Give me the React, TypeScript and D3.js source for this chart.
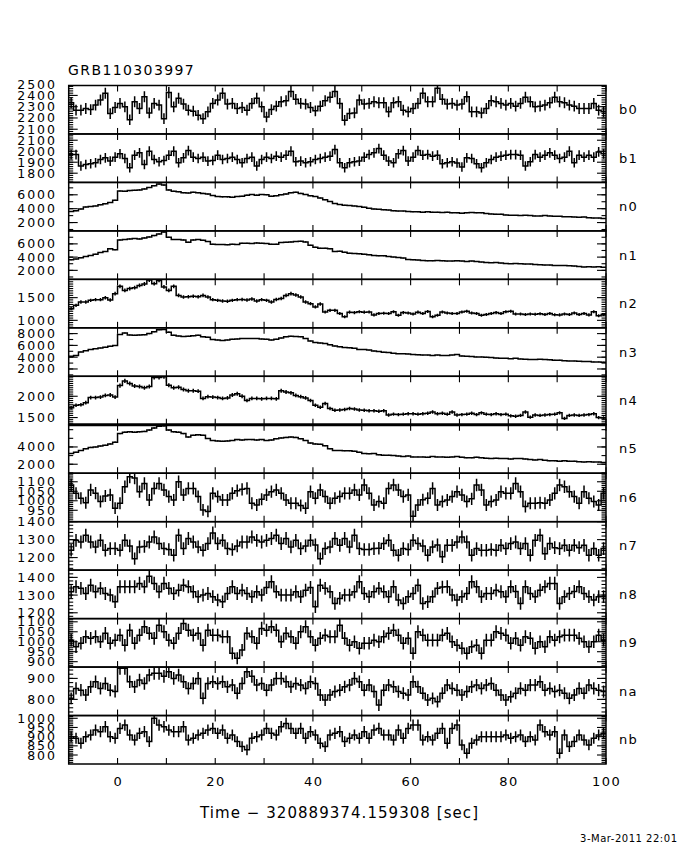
import React from "react";
import * as d3 from "d3";

// GBM light curves for GRB110303997, 1 s bins from -10 s to 100 s
const detectors = ["b0", "b1", "n0", "n1", "n2", "n3", "n4", "n5", "n6", "n7", "n8", "n9", "na", "nb"];

const b0 = [
  2335, 2269, 2269, 2284, 2275, 2314, 2359, 2419, 2239, 2293,
  2329, 2299, 2185, 2344, 2284, 2389, 2245, 2329, 2314, 2194,
  2425, 2299, 2374, 2323, 2269, 2260, 2224, 2194, 2254, 2329,
  2359, 2419, 2323, 2329, 2284, 2293, 2269, 2329, 2374, 2299,
  2209, 2275, 2305, 2344, 2353, 2434, 2365, 2329, 2323, 2293,
  2263, 2305, 2353, 2383, 2434, 2329, 2179, 2239, 2245, 2359,
  2323, 2329, 2344, 2335, 2335, 2254, 2335, 2344, 2269, 2254,
  2284, 2329, 2419, 2344, 2344, 2464, 2365, 2323, 2329, 2314,
  2323, 2389, 2254, 2254, 2245, 2284, 2353, 2344, 2329, 2314,
  2329, 2305, 2329, 2383, 2344, 2299, 2305, 2314, 2335, 2383,
  2344, 2335, 2314, 2305, 2284, 2284, 2284, 2329, 2269, 2254,
];
const b1 = [
  1970, 1970, 1865, 1880, 1886, 1895, 1925, 1940, 1910, 1946,
  1976, 1934, 1850, 1964, 1985, 1880, 2000, 1925, 1904, 1916,
  1964, 2000, 1895, 1940, 2006, 1946, 1934, 1946, 1910, 1916,
  1964, 1925, 1934, 1946, 1925, 1895, 1934, 1946, 1865, 1925,
  1946, 1934, 1955, 1946, 1964, 2000, 1904, 1910, 1895, 1904,
  1925, 1934, 1946, 1955, 2015, 1895, 1850, 1895, 1904, 1910,
  1946, 1970, 1985, 2024, 1964, 1910, 1895, 1976, 2006, 1910,
  1946, 2006, 1964, 1970, 1955, 1964, 1886, 1895, 1904, 1892,
  1856, 1940, 1934, 1886, 1850, 1895, 1925, 1946, 1955, 1964,
  1970, 1970, 1964, 1865, 1904, 1970, 1946, 1964, 1985, 1964,
  1934, 1946, 2000, 1895, 1964, 1946, 1964, 1946, 1994, 1976,
];
const n0 = [
  3600, 3700, 3950, 4250, 4300, 4400, 4550, 4700, 4900, 5200,
  6550, 6500, 6600, 6650, 6700, 6850, 7050, 7300, 7550, 7400,
  6700, 6500, 6450, 6300, 6250, 6350, 6300, 6200, 6100, 5900,
  5750, 5700, 5700, 5650, 5750, 5800, 5950, 6050, 5950, 6050,
  6000, 5800, 5850, 6000, 6100, 6300, 6350, 6200, 6050, 5850,
  5750, 5550, 5300, 5050, 4750, 4600, 4500, 4450, 4400, 4300,
  4200, 4050, 3950, 3900, 3850, 3800, 3700, 3650, 3650, 3600,
  3550, 3550, 3500, 3550, 3500, 3500, 3450, 3500, 3400, 3400,
  3350, 3400, 3450, 3400, 3400, 3300, 3250, 3200, 3200, 3100,
  3050, 3050, 3000, 3050, 3000, 2950, 2950, 3000, 2950, 2900,
  2900, 2850, 2850, 2800, 2750, 2800, 2700, 2650, 2650, 2600,
];
const n1 = [
  3600, 3700, 3900, 4100, 4250, 4450, 4700, 4850, 5250, 5100,
  6600, 6650, 6750, 6800, 6750, 6900, 7050, 7250, 7500, 7800,
  7000, 6650, 6650, 6600, 6250, 6600, 6650, 6550, 6350, 5950,
  5900, 5900, 5850, 5950, 5900, 6100, 6100, 6050, 6150, 6100,
  6050, 5950, 5950, 6200, 6250, 6300, 6350, 6400, 6300, 5800,
  5500, 5350, 5350, 5250, 4850, 4900, 4750, 4600, 4550, 4500,
  4450, 4350, 4250, 4200, 4200, 4100, 4000, 3950, 3850, 3650,
  3600, 3550, 3500, 3450, 3450, 3500, 3450, 3400, 3400, 3450,
  3400, 3350, 3400, 3350, 3250, 3200, 3150, 3200, 3100, 3050,
  3000, 3050, 3000, 2950, 2950, 2900, 2850, 2800, 2800, 2750,
  2750, 2750, 2700, 2650, 2600, 2500, 2550, 2500, 2550, 2450,
];
const n2 = [
  1258, 1330, 1405, 1405, 1440, 1456, 1456, 1500, 1450, 1588,
  1750, 1660, 1700, 1720, 1770, 1800, 1890, 1808, 1880, 1735,
  1660, 1750, 1550, 1515, 1520, 1530, 1520, 1550, 1515, 1456,
  1440, 1427, 1420, 1440, 1456, 1460, 1450, 1470, 1427, 1456,
  1440, 1405, 1460, 1480, 1550, 1588, 1560, 1515, 1405, 1368,
  1295, 1360, 1184, 1220, 1220, 1150, 1080, 1180, 1170, 1190,
  1180, 1185, 1120, 1150, 1155, 1150, 1190, 1110, 1170, 1160,
  1140, 1180, 1150, 1195, 1080, 1110, 1185, 1160, 1150, 1150,
  1185, 1200, 1160, 1150, 1110, 1130, 1150, 1170, 1150, 1190,
  1200, 1140, 1140, 1130, 1140, 1135, 1145, 1130, 1150, 1125,
  1120, 1140, 1130, 1160, 1130, 1150, 1120, 1190, 1100, 1130,
];
const n3 = [
  4150, 4300, 4900, 5100, 5300, 5450, 5550, 5700, 5850, 6000,
  7850, 8100, 7750, 7700, 7750, 7800, 8000, 8300, 8650, 8700,
  8250, 7700, 7600, 7500, 7550, 7650, 7700, 7450, 7400, 7000,
  6900, 6850, 6900, 7050, 7100, 7150, 7150, 7150, 7150, 7100,
  7050, 6900, 7050, 7250, 7450, 7550, 7500, 7450, 7150, 6750,
  6500, 6400, 6300, 6100, 5900, 5750, 5650, 5600, 5500, 5300,
  5300, 5200, 5050, 4950, 4850, 4800, 4650, 4600, 4600, 4550,
  4450, 4400, 4350, 4350, 4300, 4350, 4300, 4300, 4350, 4450,
  4200, 4150, 4100, 4050, 4050, 4000, 3950, 3850, 3800, 3800,
  3750, 3800, 3700, 3650, 3600, 3600, 3650, 3600, 3550, 3500,
  3500, 3400, 3350, 3350, 3300, 3250, 3250, 3200, 3200, 3150,
];
const n4 = [
  1730, 1790, 1800, 1850, 1970, 1970, 1980, 2020, 2030, 1980,
  2250, 2360, 2300, 2240, 2230, 2200, 2230, 2440, 2440, 2460,
  2260, 2200, 2210, 2160, 2130, 2130, 2120, 1950, 1990, 1980,
  1970, 1950, 1960, 2030, 2060, 2000, 1900, 1950, 1950, 1940,
  1950, 1950, 1940, 2130, 2100, 2080, 2020, 1990, 1960, 1900,
  1790, 1740, 1830, 1710, 1670, 1680, 1690, 1710, 1700, 1680,
  1670, 1660, 1660, 1650, 1660, 1560, 1580, 1570, 1580, 1590,
  1590, 1580, 1590, 1600, 1630, 1590, 1600, 1580, 1630, 1560,
  1570, 1580, 1600, 1570, 1610, 1580, 1570, 1590, 1570, 1580,
  1540, 1530, 1550, 1630, 1510, 1560, 1550, 1560, 1570, 1580,
  1610, 1480, 1550, 1560, 1550, 1560, 1570, 1590, 1500, 1490,
];
const n5 = [
  3230, 3400, 3600, 3800, 3950, 4000, 4100, 4200, 4350, 4550,
  5550, 5700, 5750, 5700, 5750, 5800, 5950, 6200, 6400, 6450,
  5950, 5750, 5700, 5550, 5150, 5350, 5400, 5350, 4980, 4750,
  4700, 4650, 4700, 4750, 4850, 4800, 4850, 4850, 4800, 4850,
  4750, 4800, 4950, 5050, 5100, 5150, 5100, 4950, 4750, 4450,
  4350, 4300, 4150, 3800, 3600, 3600, 3550, 3550, 3500, 3400,
  3250, 3200, 3250, 3100, 3050, 3050, 3000, 2950, 2900, 2950,
  2850, 2850, 2850, 2800, 2900, 2850, 2850, 2800, 2850, 2900,
  2800, 2750, 2750, 2800, 2750, 2700, 2650, 2700, 2650, 2650,
  2600, 2650, 2650, 2600, 2550, 2500, 2550, 2450, 2400, 2400,
  2350, 2400, 2350, 2350, 2300, 2250, 2300, 2250, 2250, 2200,
];
const n6 = [
  1083, 1039, 1013, 990, 1057, 1040, 996, 1025, 1031, 961,
  987, 1074, 1126, 1120, 1048, 1091, 1004, 1065, 1091, 1057,
  1022, 1004, 1100, 1031, 1065, 1065, 1022, 952, 944, 1039,
  1022, 1004, 1004, 1039, 1053, 1060, 1065, 987, 978, 1008,
  1031, 1048, 1057, 1039, 1004, 987, 987, 975, 961, 1048,
  1013, 1057, 1022, 987, 1013, 1022, 1039, 1039, 1057, 1031,
  1083, 1039, 978, 996, 987, 1065, 1083, 1057, 1022, 1031,
  918, 978, 1005, 1013, 1065, 978, 996, 1004, 1022, 1048,
  1031, 996, 1010, 1083, 1057, 978, 996, 1004, 1048, 1039,
  1039, 1091, 1048, 970, 987, 987, 990, 987, 1004, 1039,
  1083, 1074, 1048, 1022, 987, 1048, 1013, 996, 978, 1039,
];
const n7 = [
  1241, 1296, 1287, 1324, 1287, 1259, 1296, 1241, 1250, 1250,
  1241, 1296, 1265, 1194, 1259, 1262, 1287, 1315, 1278, 1250,
  1245, 1213, 1324, 1250, 1306, 1287, 1259, 1241, 1278, 1337,
  1278, 1296, 1250, 1245, 1265, 1287, 1287, 1315, 1296, 1287,
  1296, 1306, 1324, 1278, 1306, 1259, 1296, 1250, 1265, 1296,
  1270, 1194, 1250, 1259, 1306, 1268, 1306, 1259, 1324, 1250,
  1245, 1245, 1250, 1252, 1278, 1296, 1241, 1213, 1250, 1245,
  1296, 1278, 1265, 1213, 1259, 1270, 1204, 1268, 1268, 1287,
  1315, 1287, 1213, 1250, 1241, 1241, 1245, 1241, 1268, 1250,
  1278, 1287, 1250, 1278, 1213, 1296, 1324, 1222, 1278, 1255,
  1250, 1268, 1241, 1268, 1255, 1268, 1213, 1250, 1213, 1250,
];
const n8 = [
  1319, 1347, 1338, 1309, 1356, 1319, 1338, 1309, 1300, 1262,
  1347, 1347, 1347, 1347, 1366, 1347, 1407, 1366, 1319, 1366,
  1338, 1309, 1328, 1356, 1347, 1319, 1291, 1300, 1309, 1291,
  1272, 1262, 1309, 1347, 1309, 1328, 1309, 1291, 1319, 1300,
  1343, 1375, 1319, 1300, 1300, 1300, 1319, 1291, 1328, 1343,
  1234, 1356, 1338, 1319, 1253, 1281, 1300, 1300, 1319, 1375,
  1309, 1291, 1319, 1338, 1319, 1291, 1347, 1272, 1253, 1291,
  1309, 1356, 1253, 1262, 1291, 1338, 1345, 1347, 1300, 1272,
  1291, 1309, 1375, 1347, 1291, 1309, 1309, 1328, 1319, 1291,
  1347, 1320, 1253, 1347, 1309, 1291, 1328, 1347, 1366, 1366,
  1253, 1291, 1309, 1320, 1347, 1309, 1291, 1272, 1291, 1291,
];
const n9 = [
  1008, 975, 992, 1025, 1017, 1025, 1000, 1042, 992, 1008,
  1033, 983, 1058, 992, 1033, 1075, 1042, 1017, 1083, 1050,
  1008, 992, 1042, 1092, 1058, 1033, 1042, 983, 1058, 1033,
  1033, 1025, 1025, 942, 917, 958, 1042, 1025, 992, 1067,
  1058, 1075, 1058, 1000, 1042, 1025, 992, 1050, 1075, 1025,
  983, 1017, 1033, 1025, 1025, 1083, 1017, 983, 1000, 967,
  992, 992, 1008, 1000, 1025, 1042, 1058, 1033, 992, 1017,
  942, 1050, 1033, 1008, 1008, 1008, 1033, 1042, 1000, 983,
  967, 942, 975, 983, 942, 1008, 1008, 1050, 1042, 1033,
  992, 1017, 983, 1025, 1017, 967, 1000, 975, 1025, 1008,
  1025, 1033, 1033, 1033, 1017, 1000, 975, 1000, 1033, 1008,
];
const na = [
  805, 852, 844, 821, 860, 884, 852, 876, 844, 838,
  948, 948, 884, 860, 892, 876, 916, 924, 924, 910,
  932, 900, 916, 884, 852, 876, 900, 805, 876, 884,
  876, 884, 860, 868, 829, 876, 932, 910, 868, 876,
  844, 868, 900, 900, 884, 860, 876, 868, 852, 884,
  876, 821, 797, 821, 837, 844, 860, 868, 900, 884,
  844, 868, 837, 773, 844, 868, 860, 837, 829, 821,
  884, 860, 829, 797, 805, 789, 829, 868, 852, 844,
  821, 837, 860, 868, 852, 868, 876, 844, 821, 797,
  813, 829, 852, 844, 868, 868, 884, 844, 852, 837,
  844, 829, 805, 821, 852, 829, 868, 852, 844, 837,
];
const nb = [
  900, 891, 864, 900, 909, 936, 927, 954, 900, 891,
  945, 963, 909, 882, 918, 927, 873, 1000, 963, 954,
  936, 927, 927, 954, 882, 891, 909, 918, 936, 945,
  918, 936, 891, 909, 873, 846, 828, 891, 900, 909,
  945, 918, 909, 954, 972, 945, 918, 945, 891, 927,
  909, 864, 846, 909, 918, 927, 873, 891, 909, 891,
  927, 891, 936, 945, 909, 909, 882, 936, 891, 945,
  963, 963, 882, 900, 882, 918, 945, 864, 945, 963,
  855, 809, 864, 882, 900, 900, 900, 900, 900, 909,
  891, 900, 909, 873, 900, 882, 963, 927, 909, 927,
  809, 909, 846, 873, 909, 882, 855, 891, 909, 918,
];

const series = [b0, b1, n0, n1, n2, n3, n4, n5, n6, n7, n8, n9, na, nb];

// y ranges and labelled ticks of each pad
const yDomains = [
  [2058, 2488], [1716, 2157], [800, 7780], [640, 7960], [835, 1903], [760, 8980], [1331, 2469],
  [960, 6570], [890, 1145], [1130, 1400], [1167, 1441], [873, 1116], [723, 954], [751, 1015],
];
const yLabels = [
  [2100, 2200, 2300, 2400, 2500], [1800, 1900, 2000, 2100], [2000, 4000, 6000], [2000, 4000, 6000],
  [1000, 1500], [2000, 4000, 6000, 8000], [1500, 2000], [2000, 4000], [950, 1000, 1050, 1100],
  [1200, 1300, 1400], [1200, 1300, 1400], [900, 950, 1000, 1050, 1100], [800, 900],
  [800, 850, 900, 950, 1000],
];
const yMinor = [20, 20, 1000, 1000, 50, 1000, 50, 1000, 10, 20, 20, 10, 20, 10];

const xTicks = [0, 10, 20, 30, 40, 50, 60, 70, 80, 90, 100];
const xLabels = [0, 20, 40, 60, 80, 100];
const tStart = -10;
const tEnd = 100;

const title = "GRB110303997";
const xTitle = "Time \u2212 320889374.159308 [sec]";
const stamp = "3-Mar-2011 22:01";

const W = 680, H = 850;
const left = 68.7, right = 606;
const top = 85.5, bottom = 764;
const padH = (bottom - top) / detectors.length;
const font = "'DejaVu Sans', sans-serif";

const x = d3.scaleLinear().domain([tStart, tEnd]).range([left, right]);

function Pad({ idx }: { idx: number }) {
  const vals = series[idx];
  const y0 = top + idx * padH;
  const y1 = y0 + padH;
  const [lo, hi] = yDomains[idx];
  const y = d3.scaleLinear().domain([lo, hi]).range([y1, y0]);

  const pts: [number, number][] = vals.map((v, i) => [x(tStart + i), y(v)]);
  pts.push([x(tStart + vals.length), y(vals[vals.length - 1])]);
  const step = d3.line().curve(d3.curveStepAfter)(pts) || "";

  const minors = d3.range(Math.ceil(lo / yMinor[idx]) * yMinor[idx], hi, yMinor[idx]);
  const majors = yLabels[idx].filter((v) => v >= lo && v <= hi);
  const clipId = `clip-${detectors[idx]}`;

  return (
    <g>
      <clipPath id={clipId}>
        <rect x={left} y={y0} width={right - left} height={padH} />
      </clipPath>
      <g clipPath={`url(#${clipId})`} stroke="#000" fill="none" strokeWidth={1.5}>
        <path d={step} />
        {vals.map((v, i) => {
          const cx = x(tStart + i + 0.5);
          const e = Math.sqrt(v);
          return <line key={i} x1={cx} x2={cx} y1={y(v - e)} y2={y(v + e)} />;
        })}
      </g>
      <g stroke="#000" strokeWidth={1.1}>
        {minors.map((v) => (
          <g key={"m" + v}>
            <line x1={left} x2={left + 4.5} y1={y(v)} y2={y(v)} />
            <line x1={right} x2={right - 4.5} y1={y(v)} y2={y(v)} />
          </g>
        ))}
        {majors.map((v) => (
          <g key={"M" + v}>
            <line x1={left} x2={left + 9} y1={y(v)} y2={y(v)} />
            <line x1={right} x2={right - 9} y1={y(v)} y2={y(v)} />
          </g>
        ))}
        {xTicks.map((t) => (
          <g key={"x" + t}>
            <line x1={x(t)} x2={x(t)} y1={y0} y2={y0 + 6} />
            <line x1={x(t)} x2={x(t)} y1={y1} y2={y1 - 6} />
          </g>
        ))}
      </g>
      <rect x={left} y={y0} width={right - left} height={padH} fill="none" stroke="#000" strokeWidth={1.5} />
      {detectors[idx] === "n5" && (
        <line x1={left} x2={right} y1={y0} y2={y0} stroke="#000" strokeWidth={3} />
      )}
      <g fontFamily={font} fontSize={12.5} fill="#000" style={{ letterSpacing: "2px" }}>
        {yLabels[idx].map((v) => (
          <text key={v} x={57} y={y(v)} textAnchor="end" dominantBaseline="central">
            {v}
          </text>
        ))}
      </g>
      <text
        x={619}
        y={(y0 + y1) / 2}
        fontFamily={font}
        fontSize={13}
        dominantBaseline="central"
        style={{ letterSpacing: "1.2px" }}
      >
        {detectors[idx]}
      </text>
    </g>
  );
}

export default function App() {
  return (
    <svg
      width={W}
      height={H}
      style={{ position: "absolute", left: 0, top: 0, background: "#fff" }}
      fontWeight={400}
    >
      <rect width={W} height={H} fill="#fff" />
      <text x={68} y={75} fontFamily={font} fontSize={14} style={{ letterSpacing: "1.4px" }}>
        {title}
      </text>
      {detectors.map((d, i) => (
        <Pad key={d} idx={i} />
      ))}
      <g fontFamily={font} fontSize={13} textAnchor="middle" style={{ letterSpacing: "1.5px" }}>
        {xLabels.map((t) => (
          <text key={t} x={x(t) + 0.75} y={786}>
            {t}
          </text>
        ))}
      </g>
      <text x={200} y={818} fontFamily={font} fontSize={15} textLength={278} lengthAdjust="spacing">
        {xTitle}
      </text>
      <text x={580} y={842} fontFamily={font} fontSize={10} textLength={97} lengthAdjust="spacing">
        {stamp}
      </text>
    </svg>
  );
}
